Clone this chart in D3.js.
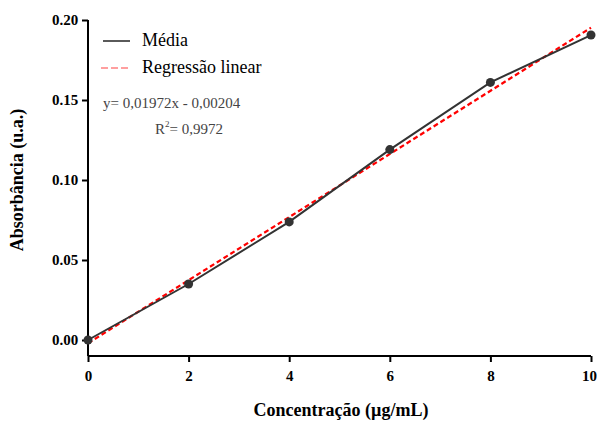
<!DOCTYPE html>
<html><head><meta charset="utf-8">
<script src="https://cdn.jsdelivr.net/npm/d3@7"></script>
<style>body{margin:0;background:#fff}svg{display:block}text{font-family:"Liberation Serif","Times New Roman",serif}</style>
</head><body>
<svg id="c" width="597" height="421"></svg>
<script>
const concentrations = [0, 2, 4, 6, 8, 10];
const absorbance = [0.000, 0.035, 0.0738, 0.119, 0.161, 0.1906];
const slope = 0.01972, intercept = -0.00204;
const xTicks = [0, 2, 4, 6, 8, 10];
const yTicks = [0.00, 0.05, 0.10, 0.15, 0.20];
const legendLabels = ["Média", "Regressão linear"];
const equationText = "y= 0,01972x - 0,00204";
const r2Value = "0,9972";

const svg = d3.select("#c");
const x = d3.scaleLinear().domain([0, 10]).range([88, 591]);
const y = d3.scaleLinear().domain([0, 0.20]).range([340, 20]);
const axisY = 356;
const SERIF = '"Liberation Serif","Times New Roman",serif';

// axes
const gx = svg.append("g").attr("transform", `translate(0,${axisY})`)
  .call(d3.axisBottom(x).tickValues(xTicks).tickFormat(d3.format("d")).tickSize(6).tickSizeOuter(0));
const gy = svg.append("g").attr("transform", `translate(88,0)`)
  .call(d3.axisLeft(y).tickValues(yTicks).tickFormat(d3.format(".2f")).tickSize(6).tickSizeOuter(0));
[gx, gy].forEach(g => {
  g.attr("font-family", SERIF);
  g.select(".domain").attr("stroke", "#000").attr("stroke-width", 2);
  g.selectAll(".tick line").attr("stroke", "#000").attr("stroke-width", 2);
  g.selectAll(".tick text").attr("fill", "#000").attr("font-size", 15).attr("font-weight", "bold")
    .attr("font-family", SERIF);
});
gy.select(".domain").attr("d", `M0,${y(0.20)}V${axisY}`);
gx.select(".domain").attr("d", `M${x(0)},0H${x(10)}`);
gx.selectAll(".tick text").attr("dy", "1.05em").attr("dx", d => d === 10 ? -2 : 0);
gy.selectAll(".tick text").attr("dx", "-0.05em");

// regression line
svg.append("line")
  .attr("x1", x(0)).attr("y1", y(intercept))
  .attr("x2", x(10)).attr("y2", y(slope * 10 + intercept))
  .attr("stroke", "#ff0000").attr("stroke-width", 2.2).attr("stroke-dasharray", "5,3");

// mean line
const line = d3.line().x((d, i) => x(concentrations[i])).y(d => y(d));
svg.append("path").datum(absorbance).attr("d", line)
  .attr("fill", "none").attr("stroke", "#333").attr("stroke-width", 2);
svg.selectAll("circle.pt").data(absorbance).join("circle")
  .attr("cx", (d, i) => x(concentrations[i])).attr("cy", d => y(d)).attr("r", 4.5).attr("fill", "#333");

// legend
svg.append("line").attr("x1", 103).attr("x2", 130).attr("y1", 41).attr("y2", 41).attr("stroke", "#000").attr("stroke-width", 1.3);
svg.append("text").attr("x", 142).attr("y", 46).attr("font-size", 18).text(legendLabels[0]);
svg.append("line").attr("x1", 101).attr("x2", 130).attr("y1", 68).attr("y2", 68).attr("stroke", "#ff8080").attr("stroke-width", 1.5).attr("stroke-dasharray", "7,3");
svg.append("text").attr("x", 142).attr("y", 73).attr("font-size", 18).text(legendLabels[1]);

// equation
svg.append("text").attr("x", 103).attr("y", 108).attr("font-size", 15).attr("fill", "#444").text(equationText);
const r = svg.append("text").attr("x", 155).attr("y", 134).attr("font-size", 15).attr("fill", "#444");
r.append("tspan").text("R");
r.append("tspan").attr("font-size", 9).attr("dy", -7).text("2");
r.append("tspan").attr("dy", 7).text("= " + r2Value);

// axis titles
svg.append("text").attr("x", 341).attr("y", 416).attr("text-anchor", "middle")
  .attr("font-size", 18).attr("font-weight", "bold").text("Concentração (µg/mL)");
svg.append("text").attr("transform", "translate(23,180) rotate(-90)").attr("text-anchor", "middle")
  .attr("font-size", 18).attr("font-weight", "bold").text("Absorbância (u.a.)");
</script>
</body></html>
